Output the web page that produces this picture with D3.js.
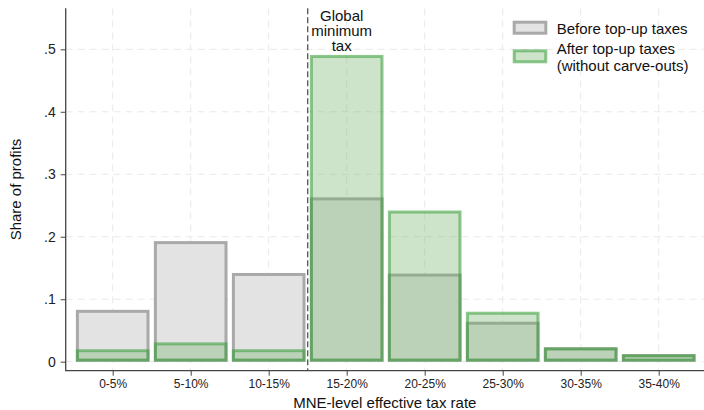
<!DOCTYPE html>
<html>
<head>
<meta charset="utf-8">
<script src="https://cdn.jsdelivr.net/npm/d3@7"></script>
<style>
  html, body { margin: 0; padding: 0; background: #fff; }
  svg { display: block; }
  svg text { font-family: 'Liberation Sans', Arimo, Arial, Helvetica, sans-serif; }
</style>
</head>
<body>
<svg id="chart" width="704" height="410"></svg>
<script>
// Effective tax rate bins (percent) and profit shares before / after top-up taxes
const categories = ["0-5%", "5-10%", "10-15%", "15-20%", "20-25%", "25-30%", "30-35%", "35-40%"];
const binMid = [2.5, 7.5, 12.5, 17.5, 22.5, 27.5, 32.5, 37.5];
const beforeShare = [0.083, 0.193, 0.142, 0.263, 0.141, 0.064, 0.023, 0.012];
const afterShare = [0.020, 0.031, 0.020, 0.491, 0.242, 0.080, 0.023, 0.012];
const yTicks = [0, 0.1, 0.2, 0.3, 0.4, 0.5];
const yTickLabels = ["0", ".1", ".2", ".3", ".4", ".5"];
const minimumTaxRate = 15;
const legendLabels = [["Before top-up taxes"], ["After top-up taxes", "(without carve-outs)"]];

const FONT = "'Liberation Sans', Arimo, Arial, Helvetica, sans-serif";
const svg = d3.select("#chart").attr("font-family", FONT);

const plot = { left: 65.7, right: 704, top: 8.3, bottom: 370.7 };
const x = d3.scaleLinear().domain([0, 40]).range([73.7, 697.7]);
const y = d3.scaleLinear().domain([0, 0.5]).range([361.7, 49.3]);
const barWidth = 4.72;   // in rate units
const lw = 3;            // bar outline width (drawn inside the bar)

// grid
const grid = svg.append("g").attr("stroke", "#e9e9e9").attr("stroke-width", 1)
  .attr("stroke-dasharray", "7,5");
grid.selectAll("line.h").data(yTicks).join("line").attr("class", "h")
  .attr("x1", plot.left).attr("x2", plot.right)
  .attr("y1", d => y(d)).attr("y2", d => y(d));
grid.selectAll("line.v").data(binMid).join("line").attr("class", "v")
  .attr("x1", d => x(d)).attr("x2", d => x(d))
  .attr("y1", plot.top).attr("y2", plot.bottom);

// bars with the outline inset so the outer edge sits on the value
function drawBars(values, cls, fill, stroke, fillOp, strokeOp) {
  svg.append("g").attr("class", cls).selectAll("rect")
    .data(values.map((v, i) => ({ v, mid: binMid[i] })))
    .join("rect")
    .attr("x", d => x(d.mid - barWidth / 2) + lw / 2)
    .attr("width", x(barWidth) - x(0) - lw)
    .attr("y", d => y(d.v) + lw / 2)
    .attr("height", d => Math.max(0, y(0) - y(d.v) - lw))
    .attr("fill", fill).attr("fill-opacity", fillOp)
    .attr("stroke", stroke).attr("stroke-opacity", strokeOp)
    .attr("stroke-width", lw);
}
drawBars(beforeShare, "before", "#e3e3e3", "#a9a9a9", 1, 1);
drawBars(afterShare, "after", "rgb(112,178,106)", "rgb(58,158,58)", 0.35, 0.57);

// global minimum tax marker
svg.append("line")
  .attr("x1", x(minimumTaxRate)).attr("x2", x(minimumTaxRate))
  .attr("y1", plot.top).attr("y2", plot.bottom)
  .attr("stroke", "#555").attr("stroke-width", 1.3).attr("stroke-dasharray", "6,3");
svg.append("text").attr("text-anchor", "middle").attr("font-size", "15px").attr("fill", "#111")
  .selectAll("tspan").data(["Global", "minimum", "tax"]).join("tspan")
  .attr("x", 341.7).attr("y", (d, i) => 20.7 + i * 15.3).text(d => d);

// axes
const yAxis = svg.append("g").attr("transform", `translate(${plot.left},0)`)
  .call(d3.axisLeft(y).tickValues(yTicks).tickFormat((d, i) => yTickLabels[i])
    .tickSize(5).tickPadding(5));
yAxis.attr("font-family", FONT).attr("font-size", null);
yAxis.select(".domain").remove();
yAxis.selectAll("text").attr("font-size", "14px").attr("fill", "#222");
yAxis.selectAll("line").attr("stroke", "#444");

const xAxis = svg.append("g").attr("transform", `translate(0,${plot.bottom})`)
  .call(d3.axisBottom(x).tickValues(binMid).tickFormat((d, i) => categories[i])
    .tickSize(5).tickPadding(4));
xAxis.attr("font-family", FONT).attr("font-size", null);
xAxis.select(".domain").remove();
xAxis.selectAll("text").attr("font-size", "12px").attr("fill", "#222");
xAxis.selectAll("line").attr("stroke", "#444");

svg.append("line").attr("x1", plot.left).attr("x2", plot.left)
  .attr("y1", plot.top).attr("y2", plot.bottom + 0.6).attr("stroke", "#444").attr("stroke-width", 1.3);
svg.append("line").attr("x1", plot.left).attr("x2", plot.right)
  .attr("y1", plot.bottom).attr("y2", plot.bottom).attr("stroke", "#444").attr("stroke-width", 1.3);

// axis titles
svg.append("text").attr("x", (plot.left + plot.right) / 2).attr("y", 408)
  .attr("text-anchor", "middle").attr("font-size", "15px").attr("fill", "#111")
  .text("MNE-level effective tax rate");
svg.append("text").attr("transform", `translate(20.8,${(plot.top + plot.bottom) / 2}) rotate(-90)`)
  .attr("text-anchor", "middle").attr("font-size", "15px").attr("fill", "#111")
  .text("Share of profits");

// legend
const legend = svg.append("g");
const swatches = [
  { y: 20.7, fill: "#e3e3e3", stroke: "#a9a9a9", fo: 1, so: 1 },
  { y: 49.3, fill: "rgb(112,178,106)", stroke: "rgb(58,158,58)", fo: 0.35, so: 0.57 }
];
legend.selectAll("rect").data(swatches).join("rect")
  .attr("x", 512.7 + lw / 2).attr("y", d => d.y + lw / 2)
  .attr("width", 34.6 - lw).attr("height", 14 - lw)
  .attr("fill", d => d.fill).attr("fill-opacity", d => d.fo)
  .attr("stroke", d => d.stroke).attr("stroke-opacity", d => d.so).attr("stroke-width", lw);
const legendBaselines = [[34], [54, 70.5]];
legendLabels.forEach((lines, i) => {
  legend.append("text").attr("font-size", "15px").attr("fill", "#111")
    .selectAll("tspan").data(lines).join("tspan")
    .attr("x", 556.7).attr("y", (d, j) => legendBaselines[i][j]).text(d => d);
});
</script>
</body>
</html>
